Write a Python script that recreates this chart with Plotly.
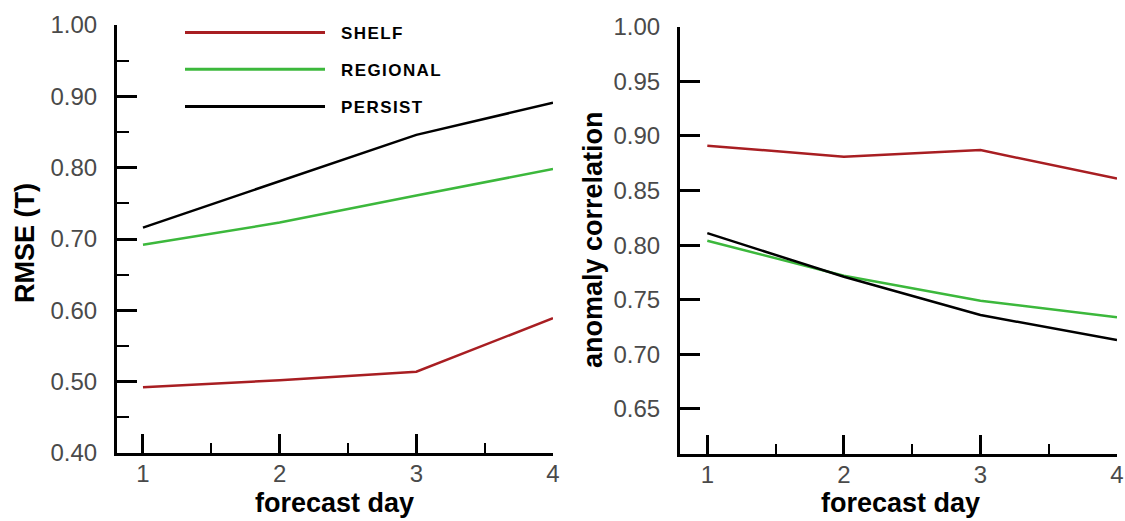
import plotly.graph_objects as go

W, H = 1125, 521

# ---- data ----
days = [1, 2, 3, 4]
series_names = ["SHELF", "REGIONAL", "PERSIST"]
series_colors = ["#a81e22", "#3cb83c", "#000000"]

rmse_shelf = [0.492, 0.502, 0.514, 0.589]
rmse_regional = [0.692, 0.723, 0.761, 0.798]
rmse_persist = [0.716, 0.781, 0.846, 0.891]

ac_shelf = [0.891, 0.881, 0.887, 0.861]
ac_regional = [0.804, 0.772, 0.749, 0.734]
ac_persist = [0.811, 0.771, 0.736, 0.713]

rmse_ticks = [0.40, 0.50, 0.60, 0.70, 0.80, 0.90, 1.00]
ac_ticks = [0.65, 0.70, 0.75, 0.80, 0.85, 0.90, 0.95, 1.00]
x_ticks = [1, 2, 3, 4]

def px(x):
    return x / W

def py(y):
    return 1 - y / H

fig = go.Figure()

left = [rmse_shelf, rmse_regional, rmse_persist]
right = [ac_shelf, ac_regional, ac_persist]
for name, col, ys in zip(series_names, series_colors, left):
    fig.add_trace(go.Scatter(x=days, y=ys, mode="lines", name=name,
                             line=dict(color=col, width=2.5),
                             xaxis="x", yaxis="y", showlegend=False,
                             cliponaxis=False))
for name, col, ys in zip(series_names, series_colors, right):
    fig.add_trace(go.Scatter(x=days, y=ys, mode="lines", name=name,
                             line=dict(color=col, width=2.5),
                             xaxis="x2", yaxis="y2", showlegend=False,
                             cliponaxis=False))

tickfont = dict(family="Liberation Sans, Arial, sans-serif", size=24, color="#4a4a4a")
common_x = dict(showline=True, linewidth=3, linecolor="black", mirror=False,
                ticks="inside", ticklen=19, tickwidth=3, tickcolor="black",
                tickvals=x_ticks, ticktext=[str(v) for v in x_ticks],
                tickfont=tickfont, showgrid=False, zeroline=False,
                ticklabelstandoff=-3, automargin=False,
                minor=dict(ticks="inside", ticklen=10, tickwidth=2,
                           tickcolor="black", dtick=0.5, tick0=1, showgrid=False))
common_y = dict(showline=True, linewidth=3, linecolor="black", mirror=False,
                ticks="inside", ticklen=20, tickwidth=3, tickcolor="black",
                tickfont=tickfont, showgrid=False, zeroline=False,
                tickformat=".2f", ticklabelstandoff=12, automargin=False)

fig.update_layout(
    template="none",
    width=W, height=H,
    margin=dict(l=0, r=0, t=0, b=0),
    paper_bgcolor="white", plot_bgcolor="white",
    xaxis=dict(domain=[px(117), px(553)], range=[0.81, 4.0], anchor="y", **common_x),
    yaxis=dict(domain=[py(453), py(25)], range=[0.40, 1.00], anchor="x",
               tickvals=rmse_ticks,
               minor=dict(ticks="inside", ticklen=12, tickwidth=2,
                          tickcolor="black", dtick=0.05, tick0=0.4, showgrid=False),
               **common_y),
    xaxis2=dict(domain=[px(680), px(1117)], range=[0.80, 4.0], anchor="y2", **common_x),
    yaxis2=dict(domain=[py(453.7), py(26.7)], range=[0.609, 1.00], anchor="x2",
                tickvals=ac_ticks, **common_y),
)

titlefont = dict(family="Liberation Sans, Arial, sans-serif", size=27, color="black", weight="bold")
ann = [
    dict(text="RMSE (T)", x=px(25), y=py(243), textangle=-90),
    dict(text="forecast day", x=px(334), y=py(503), textangle=0),
    dict(text="anomaly correlation", x=px(593), y=py(240), textangle=-90),
    dict(text="forecast day", x=px(900), y=py(503), textangle=0),
]
for a in ann:
    fig.add_annotation(xref="paper", yref="paper", showarrow=False,
                       xanchor="center", yanchor="middle", font=titlefont, **a)

# legend drawn in the left panel
leg_y = [32.5, 69.3, 106.5]
legfont = dict(family="Liberation Sans, Arial, sans-serif", size=17, color="black", weight="bold")
for name, col, yy in zip(series_names, series_colors, leg_y):
    fig.add_shape(type="line", xref="paper", yref="paper",
                  x0=px(185), x1=px(325), y0=py(yy), y1=py(yy),
                  line=dict(color=col, width=3))
    spaced = "\u200a".join(list(name))
    fig.add_annotation(xref="paper", yref="paper", showarrow=False,
                       x=px(339), y=py(yy + 1), xanchor="left", yanchor="middle",
                       text=spaced, font=legfont)

fig.write_html("out.html", config={"displayModeBar": False},
               post_script="document.body.style.margin='0';document.body.style.overflow='hidden';")
